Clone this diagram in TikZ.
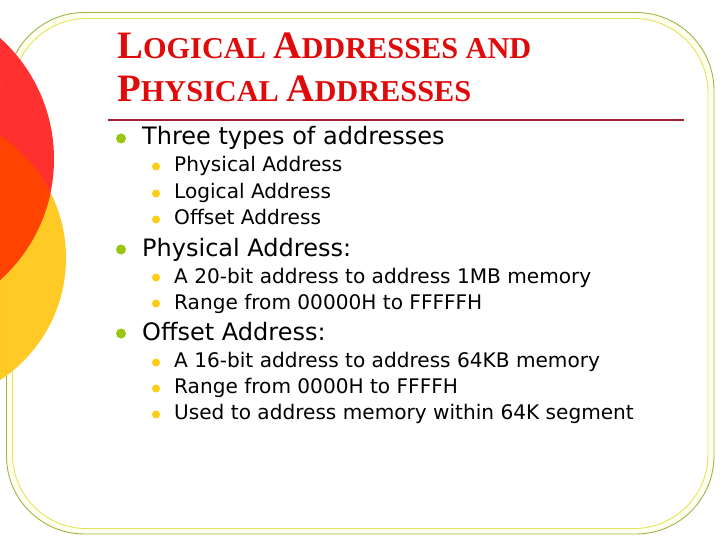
\documentclass[tikz,border=0pt]{standalone}
\usepackage{fontspec}
\setmainfont{DejaVu Sans}
\newfontfamily\titlefont{Liberation Serif}[BoldFont={Liberation Serif Bold}]
\definecolor{frameouter}{HTML}{9DB54A}
\definecolor{frameinner}{HTML}{E6E35A}
\definecolor{framefill}{HTML}{FFFFF0}
\definecolor{circred}{HTML}{FF2A2A}
\definecolor{circyel}{HTML}{FFC91F}
\definecolor{circover}{HTML}{FF4500}
\definecolor{titlered}{HTML}{E00A0A}
\definecolor{rulered}{HTML}{A52030}
\definecolor{bulgreen}{HTML}{99C60E}
\definecolor{bulyel}{HTML}{FFCB14}
\tikzset{
  lvlone/.style={anchor=base west,inner sep=0pt,font=\fontsize{24}{28}\selectfont,text=black},
  lvltwo/.style={anchor=base west,inner sep=0pt,font=\fontsize{20.1}{24}\selectfont,text=black},
  bulone/.style={circle,fill=bulgreen,draw=none,minimum size=10pt,inner sep=0pt},
  bultwo/.style={circle,fill=bulyel,draw=none,minimum size=8pt,inner sep=0pt},
  titletext/.style={anchor=base west,inner sep=0pt,text=titlered,font=\titlefont\bfseries\fontsize{30.3}{32}\selectfont}
}
\newcommand{\bigcp}[1]{{\fontsize{38.8}{40}\selectfont #1}}
\begin{document}
\begin{tikzpicture}[x=1pt,y=-1pt]
\useasboundingbox (0,0) rectangle (720,540);
\fill[white] (0,0) rectangle (720,540);
\draw[frameouter,fill=framefill,line width=0.9pt,rounded corners=78pt] (6.5,12.5) rectangle (714,534);
\draw[frameinner,fill=white,line width=0.9pt,rounded corners=74pt] (12.5,18.5) rectangle (708,528.5);
\fill[circyel,opacity=0.97] (-80,258) circle[radius=146];
\fill[circred,opacity=0.97] (-108.6,159) circle[radius=162.6];
\begin{scope}
\clip (-80,258) circle[radius=146];
\fill[circover,opacity=0.97] (-108.6,159) circle[radius=162.6];
\end{scope}
\node[titletext] (t1) at (117,59) {\bigcp{L}OGICAL \bigcp{A}DDRESSES AND};
\node[titletext] (t2) at (117,102) {\bigcp{P}HYSICAL \bigcp{A}DDRESSES};
\coordinate (ruleL) at (108,120);
\coordinate (ruleR) at (684,120);
\draw[rulered,line width=2pt] (ruleL) -- (ruleR);
\node[bulone] (b1) at (121,138.5) {};
\node[lvlone] (a1) at (142,145) {Three types of addresses};
\node[bultwo] (b11) at (156,166.5) {};
\node[lvltwo] (a11) at (174,172) {Physical Address};
\node[bultwo] (b12) at (156,193.5) {};
\node[lvltwo] (a12) at (174,199) {Logical Address};
\node[bultwo] (b13) at (156,219.5) {};
\node[lvltwo] (a13) at (174,225) {Offset Address};
\node[bulone] (b2) at (121,249.5) {};
\node[lvlone] (a2) at (142,256) {Physical Address:};
\node[bultwo] (b21) at (156,277.5) {};
\node[lvltwo] (a21) at (174,283) {A 20-bit address to address 1MB memory};
\node[bultwo] (b22) at (156,303.5) {};
\node[lvltwo] (a22) at (174,309) {Range from 00000H to FFFFFH};
\node[bulone] (b3) at (121,333.5) {};
\node[lvlone] (a3) at (142,340) {Offset Address:};
\node[bultwo] (b31) at (156,362.5) {};
\node[lvltwo] (a31) at (174,367.6) {A 16-bit address to address 64KB memory};
\node[bultwo] (b32) at (156,388.5) {};
\node[lvltwo] (a32) at (174,393.6) {Range from 0000H to FFFFH};
\node[bultwo] (b33) at (156,414.5) {};
\node[lvltwo] (a33) at (174,419.6) {Used to address memory within 64K segment};
\end{tikzpicture}
\end{document}
